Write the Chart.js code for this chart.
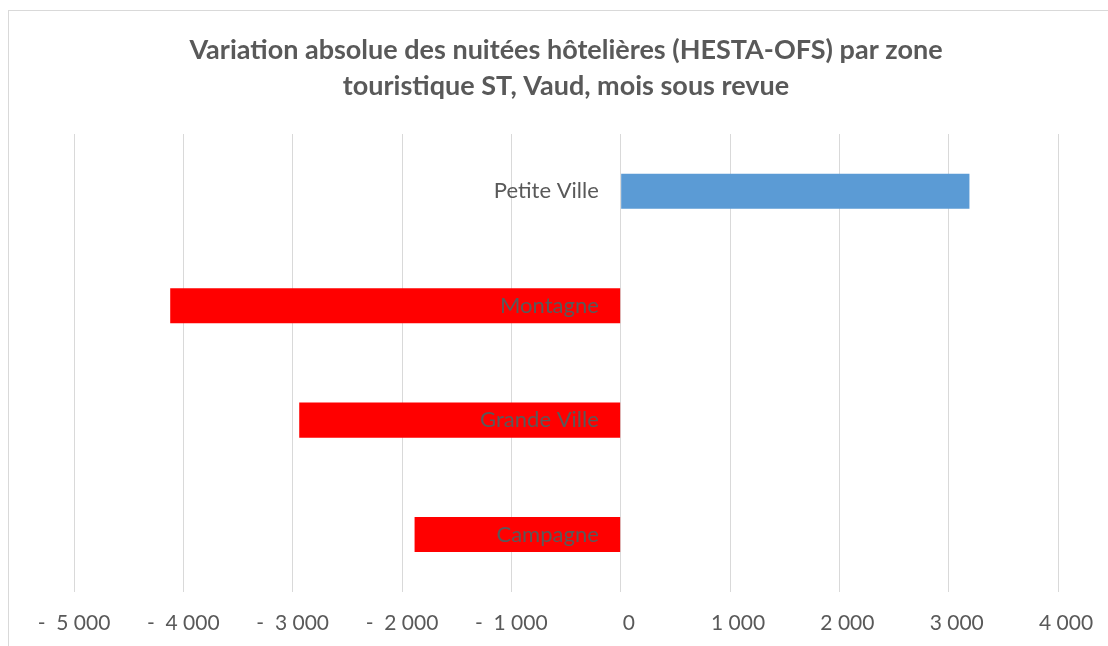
<!DOCTYPE html>
<html>
<head>
<meta charset="utf-8">
<script src="https://cdn.jsdelivr.net/npm/chart.js@4/dist/chart.umd.min.js"></script>
<style>
  html, body { margin: 0; padding: 0; background: #ffffff; overflow: hidden; width: 1108px; height: 646px; }
  #frame { position: absolute; left: 8px; top: 10px; width: 1112px; height: 650px; box-sizing: border-box; border: 1px solid #d9d9d9; background: #fff; }
  #wrap { position: absolute; left: 0; top: 0; width: 1110px; height: 648px; }
</style>
</head>
<body>
<div id="frame"><div id="wrap"><canvas id="c"></canvas></div></div>
<script>
const titleLines = ['Variation absolue des nuitées hôtelières (HESTA-OFS) par zone', 'touristique ST, Vaud, mois sous revue'];
const categories = ['Petite Ville', 'Montagne', 'Grande Ville', 'Campagne'];
const values = [3190, -4120, -2940, -1885];
const tickValues = [-5000, -4000, -3000, -2000, -1000, 0, 1000, 2000, 3000, 4000];
const tickLabels = ['-  5 000', '-  4 000', '-  3 000', '-  2 000', '-  1 000', '   0', '   1 000', '   2 000', '   3 000', '   4 000'];

const POS = '#5B9BD5', NEG = '#FF0000';
const gray = '#595959';

new Chart(document.getElementById('c'), {
  type: 'bar',
  data: {
    labels: categories,
    datasets: [{
      data: values,
      backgroundColor: ctx => (ctx.raw >= 0 ? POS : NEG),
      borderWidth: 0,
      barPercentage: 0.306,
      categoryPercentage: 1.0
    }]
  },
  options: {
    indexAxis: 'y',
    responsive: true,
    maintainAspectRatio: false,
    animation: false,
    layout: { padding: { left: 65, right: 61, top: 0, bottom: 4 } },
    plugins: {
      legend: { display: false },
      tooltip: { enabled: false },
      title: {
        display: true,
        text: titleLines,
        color: gray,
        font: { family: 'Lato', size: 27, weight: 'bold', lineHeight: '36px' },
        padding: { top: 21, bottom: 30 }
      }
    },
    scales: {
      x: {
        type: 'linear',
        min: -5000,
        max: 4000,
        afterBuildTicks: axis => { axis.ticks = tickValues.map(v => ({ value: v })); },
        grid: { color: '#d9d9d9', lineWidth: 1, drawTicks: false },
        border: { display: false },
        ticks: {
          color: gray,
          font: { family: 'Lato', size: 21 },
          padding: 19,
          maxRotation: 0,
          autoSkip: false,
          callback: (v) => { const i = tickValues.indexOf(v); return i >= 0 ? tickLabels[i] : ''; }
        }
      },
      y: {
        position: { x: -200 },
        grid: { display: false, drawTicks: false },
        border: { display: false },
        ticks: {
          z: 1,
          color: gray,
          font: { family: 'Lato', size: 22 },
          padding: 0
        }
      }
    }
  }
});
</script>
</body>
</html>
